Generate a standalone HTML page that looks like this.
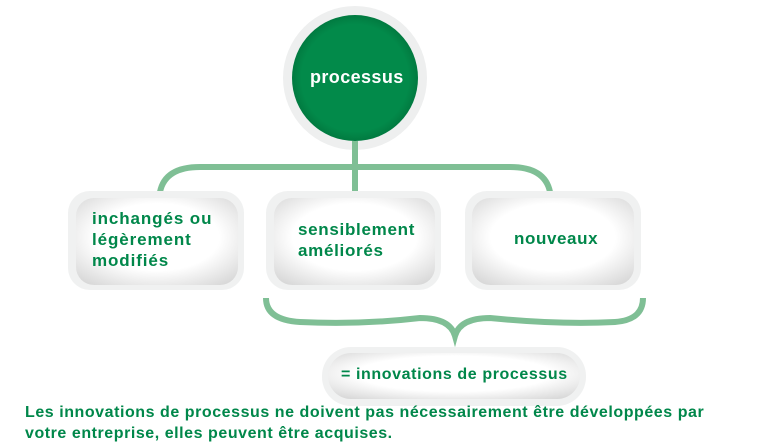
<!DOCTYPE html>
<html><head><style>
body{margin:0;width:769px;height:444px;background:#fff;overflow:hidden;position:relative;font-family:"Liberation Sans",sans-serif;}
.t{position:absolute;color:#00874a;font-weight:bold;letter-spacing:0.6px;white-space:nowrap;}
</style></head><body>
<svg width="769" height="444" style="position:absolute;left:0;top:0">
<defs>
<radialGradient id="g" cx="50%" cy="45%" r="70%"><stop offset="0.55" stop-color="#fff"/><stop offset="1" stop-color="#d6d6d6"/></radialGradient>
<radialGradient id="c" cx="50%" cy="50%" r="50%"><stop offset="0.85" stop-color="#028a4a"/><stop offset="1" stop-color="#017a40"/></radialGradient>
</defs>
<circle cx="355" cy="78" r="72" fill="#eeefef"/>
<circle cx="355" cy="78" r="63" fill="url(#c)"/>
<g fill="none" stroke="#7fbf95" stroke-width="6">
<path d="M355 141 V192"/>
<path d="M160 192 Q165 167 200 167 H510 Q545 167 550 192"/>
<path d="M266 298 Q266 320 300 322 Q360 325 420 318 Q450 318 455 336 Q460 318 490 318 Q560 325 615 322 Q643 320 643 298"/>
</g>
<g>
<rect x="68" y="191" width="176" height="99" rx="22" fill="#f0f1f1"/>
<rect x="76" y="198" width="162" height="87" rx="18" fill="url(#g)"/>
<rect x="266" y="191" width="175" height="99" rx="22" fill="#f0f1f1"/>
<rect x="274" y="198" width="161" height="87" rx="18" fill="url(#g)"/>
<rect x="465" y="191" width="176" height="99" rx="22" fill="#f0f1f1"/>
<rect x="472" y="198" width="162" height="87" rx="18" fill="url(#g)"/>
<rect x="322" y="347" width="264" height="59" rx="29" fill="#f0f1f1"/>
<rect x="328" y="353" width="252" height="46" rx="23" fill="url(#g)"/>
</g>
</svg>
<div class="t" style="left:310px;top:67px;color:#fff;font-size:18px;letter-spacing:0.4px">processus</div>
<div class="t" style="left:92px;top:208px;font-size:17px;line-height:21px;letter-spacing:0.9px">inchangés ou<br>légèrement<br>modifiés</div>
<div class="t" style="left:298px;top:219px;font-size:17px;line-height:21px;letter-spacing:0.7px">sensiblement<br>améliorés</div>
<div class="t" style="left:514px;top:229px;font-size:17px;letter-spacing:0.6px">nouveaux</div>
<div class="t" style="left:341px;top:366px;font-size:16px;letter-spacing:0.6px">= innovations de processus</div>
<div class="t" style="left:25px;top:402px;font-size:16px;line-height:21px;letter-spacing:0.55px">Les innovations de processus ne doivent pas nécessairement être développées par<br>votre entreprise, elles peuvent être acquises.</div>
</body></html>
